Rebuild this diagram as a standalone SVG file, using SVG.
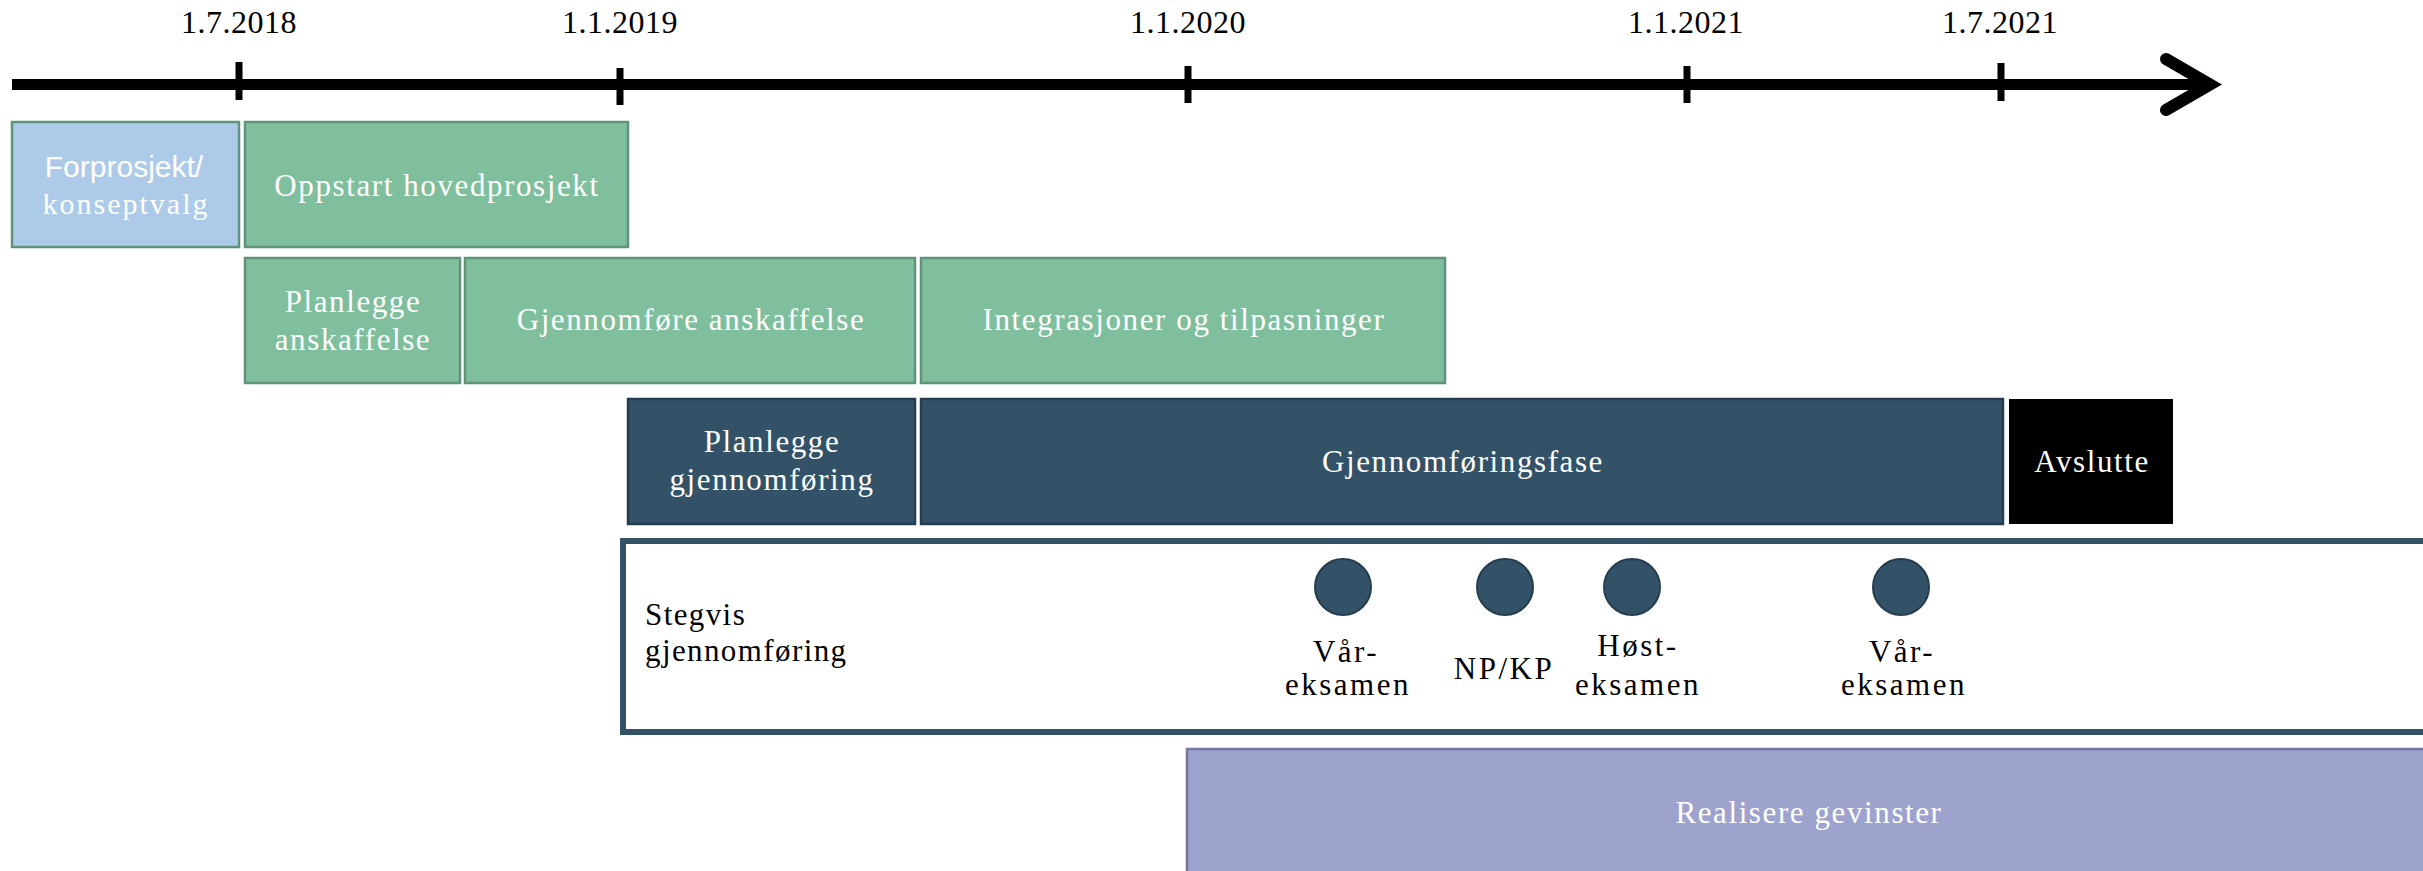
<svg xmlns="http://www.w3.org/2000/svg" width="2423" height="871" viewBox="0 0 2423 871">
<style>
.date{font-family:"Liberation Serif","Times New Roman",serif;font-size:32px;fill:#000;text-anchor:middle;letter-spacing:0.5px}
.t{font-family:"Liberation Serif","Times New Roman",serif;font-size:31px;fill:#fff;text-anchor:middle;letter-spacing:1.6px}
.tb{font-family:"Liberation Serif","Times New Roman",serif;font-size:31px;fill:#000;letter-spacing:1.4px}
.tbm{font-family:"Liberation Serif","Times New Roman",serif;font-size:31px;fill:#000;text-anchor:middle;letter-spacing:2.5px}
.green{fill:#7fbf9d;stroke:#5e957a;stroke-width:2.5}
.blue{fill:#adcbe9;stroke:#5e957a;stroke-width:2.5}
.navy{fill:#335268;stroke:#263d50;stroke-width:2.5}
.dot{fill:#335268;stroke:#263d50;stroke-width:2}
.tick{stroke:#000;stroke-width:7}
</style>
<g id="connectors">
<line x1="12" y1="84.5" x2="2205" y2="84.5" stroke="#000" stroke-width="11"/>
<polyline points="2166,59 2210,84.5 2166,110" fill="none" stroke="#000" stroke-width="12" stroke-linecap="round" stroke-linejoin="miter"/>
<line class="tick" x1="239" y1="62" x2="239" y2="100"/>
<line class="tick" x1="620" y1="68" x2="620" y2="105"/>
<line class="tick" x1="1188" y1="66" x2="1188" y2="103"/>
<line class="tick" x1="1687" y1="66" x2="1687" y2="103"/>
<line class="tick" x1="2001" y1="63" x2="2001" y2="101"/>
</g>
<g id="dates">
<text class="date" x="239" y="33">1.7.2018</text>
<text class="date" x="620" y="33">1.1.2019</text>
<text class="date" x="1188" y="33">1.1.2020</text>
<text class="date" x="1686" y="33">1.1.2021</text>
<text class="date" x="2000" y="33">1.7.2021</text>
</g>
<g id="forprosjekt">
<rect class="blue" x="12" y="122" width="227" height="125"/>
<text x="124" y="177" font-family="'Liberation Sans',Arial,sans-serif" font-size="30" fill="#fff" text-anchor="middle">Forprosjekt/</text>
<text x="126" y="214" font-family="'Liberation Serif','Times New Roman',serif" font-size="30" fill="#fff" text-anchor="middle" letter-spacing="2">konseptvalg</text>
</g>
<g id="oppstart">
<rect class="green" x="245" y="122" width="383" height="125"/>
<text class="t" x="437" y="196">Oppstart hovedprosjekt</text>
</g>
<g id="planlegge-anskaffelse">
<rect class="green" x="245" y="258" width="215" height="125"/>
<text class="t" x="353" y="312">Planlegge</text>
<text class="t" x="353" y="350">anskaffelse</text>
</g>
<g id="gjennomfore-anskaffelse">
<rect class="green" x="465" y="258" width="450" height="125"/>
<text class="t" x="691" y="330">Gjennomføre anskaffelse</text>
</g>
<g id="integrasjoner">
<rect class="green" x="921" y="258" width="524" height="125"/>
<text class="t" x="1184" y="330">Integrasjoner og tilpasninger</text>
</g>
<g id="planlegge-gjennomforing">
<rect class="navy" x="628" y="399" width="287" height="125"/>
<text class="t" x="772" y="452">Planlegge</text>
<text class="t" x="772" y="490">gjennomføring</text>
</g>
<g id="gjennomforingsfase">
<rect class="navy" x="921" y="399" width="1082" height="125"/>
<text class="t" x="1463" y="472">Gjennomføringsfase</text>
</g>
<g id="avslutte">
<rect x="2009" y="399" width="164" height="125" fill="#000"/>
<text class="t" x="2092" y="472">Avslutte</text>
</g>
<g id="stegvis">
<rect x="623" y="541" width="1830" height="191" fill="#fff" stroke="#335268" stroke-width="6"/>
<text class="tb" x="645" y="625">Stegvis</text>
<text class="tb" x="645" y="661">gjennomføring</text>
</g>
<g id="varexamen1">
<circle class="dot" cx="1343" cy="587" r="28"/>
<text class="tbm" x="1346" y="662" letter-spacing="1.5">Vår-</text>
<text class="tbm" x="1348" y="695">eksamen</text>
</g>
<g id="npkp">
<circle class="dot" cx="1505" cy="587" r="28"/>
<text class="tbm" x="1504" y="679">NP/KP</text>
</g>
<g id="hostexamen">
<circle class="dot" cx="1632" cy="587" r="28"/>
<text class="tbm" x="1638" y="656">Høst-</text>
<text class="tbm" x="1638" y="695">eksamen</text>
</g>
<g id="varexamen2">
<circle class="dot" cx="1901" cy="587" r="28"/>
<text class="tbm" x="1902" y="662" letter-spacing="1.5">Vår-</text>
<text class="tbm" x="1904" y="695">eksamen</text>
</g>
<g id="realisere">
<rect x="1187" y="749" width="1260" height="140" fill="#9ea3ce" stroke="#7478a0" stroke-width="2.5"/>
<text class="t" x="1809" y="823">Realisere gevinster</text>
</g>
</svg>
